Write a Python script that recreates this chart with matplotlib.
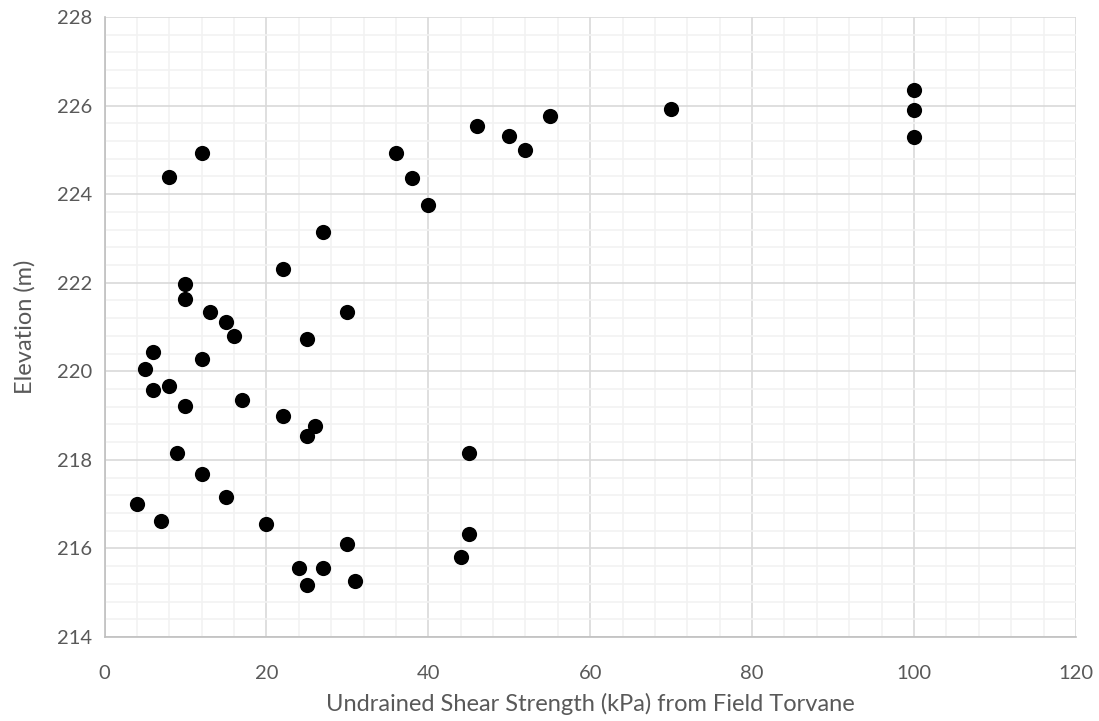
import matplotlib.pyplot as plt
from matplotlib.ticker import MultipleLocator

plt.rcParams['font.family'] = ['Lato', 'DejaVu Sans']

# field torvane readings
strength = [8, 12, 27, 36, 38, 40, 46, 50, 52, 55, 70, 100, 100, 100,
            22, 10, 10, 13, 15, 16, 30, 25, 6, 5, 12, 6, 8, 10, 17, 22, 26, 25,
            9, 12, 15, 4, 7, 20, 30, 24, 27, 25, 31, 45, 45, 44]
elevation = [224.38, 224.93, 223.15, 224.93, 224.37, 223.76, 225.53, 225.31,
             224.99, 225.77, 225.92, 226.36, 225.89, 225.29,
             222.32, 221.96, 221.64, 221.35, 221.12, 220.80, 221.33, 220.72,
             220.43, 220.05, 220.28, 219.58, 219.66, 219.21, 219.36, 218.98,
             218.76, 218.55,
             218.15, 217.69, 217.17, 217.00, 216.63, 216.55, 216.09, 215.56,
             215.56, 215.18, 215.26, 218.15, 216.32, 215.80]

fig = plt.figure(figsize=(10.99, 7.21), dpi=100)
ax = fig.add_axes([0.0951, 0.1165, 0.8839, 0.8599])

ax.scatter(strength, elevation, s=120, color="black", zorder=3, linewidths=0)

ax.set_xlim(0, 120)
ax.set_ylim(214, 228)
ax.xaxis.set_major_locator(MultipleLocator(20))
ax.xaxis.set_minor_locator(MultipleLocator(4))
ax.yaxis.set_major_locator(MultipleLocator(2))
ax.yaxis.set_minor_locator(MultipleLocator(0.4))
ax.grid(which="minor", color="#F2F2F2", linewidth=1.2, zorder=0)
ax.grid(which="major", color="#D9D9D9", linewidth=1.2, zorder=1)
ax.set_axisbelow(True)

for s in ["top", "right"]:
    ax.spines[s].set_visible(False)
for s in ["left", "bottom"]:
    ax.spines[s].set_color("#BFBFBF")
    ax.spines[s].set_linewidth(1.2)

ax.tick_params(which="both", length=0, labelsize=14.5, colors="#595959")
ax.tick_params(axis="x", pad=20)
ax.tick_params(axis="y", pad=9)

ax.set_xlabel("Undrained Shear Strength (kPa) from Field Torvane",
              fontsize=17, color="#595959", labelpad=8)
ax.set_ylabel("Elevation (m)", fontsize=17, color="#595959", labelpad=15)

plt.savefig("out.png")
